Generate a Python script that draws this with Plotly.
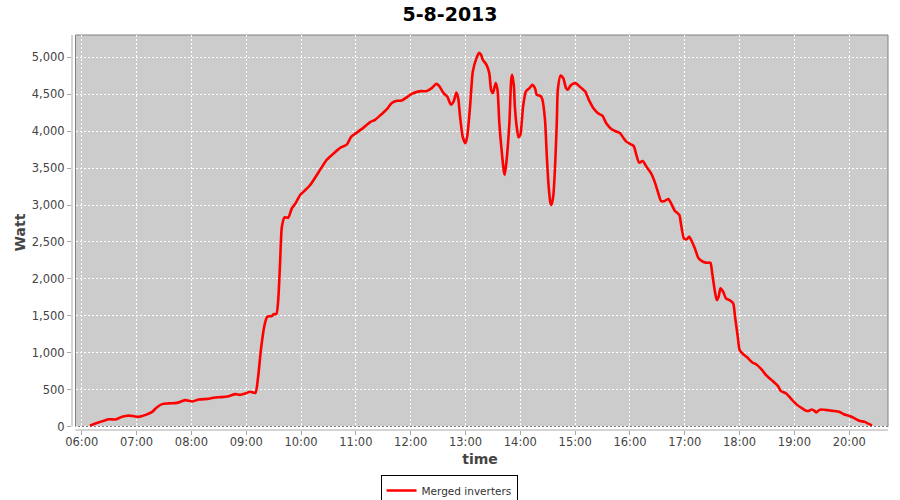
import pandas as pd
import plotly.graph_objects as go

DATE = "2013-08-05"
times = [
    "06:09", "06:14", "06:20", "06:25", "06:30", "06:37", "06:44", "06:51", "06:57", "07:02",
    "07:10", "07:17", "07:22", "07:28", "07:35", "07:44", "07:53", "08:01", "08:08", "08:19",
    "08:26", "08:33", "08:41", "08:48", "08:53", "08:59", "09:04", "09:10", "09:13", "09:16",
    "09:20", "09:23", "09:28", "09:30", "09:33", "09:35", "09:37", "09:39", "09:42", "09:46",
    "09:50", "09:54", "09:59", "10:04", "10:10", "10:21", "10:28", "10:35", "10:44", "10:50",
    "10:55", "11:01", "11:08", "11:16", "11:21", "11:28", "11:34", "11:39", "11:45", "11:50",
    "11:56", "12:01", "12:07", "12:12", "12:17", "12:23", "12:28", "12:31", "12:36", "12:40",
    "12:44", "12:47", "12:50", "12:52", "12:54", "12:57", "13:00", "13:02", "13:05", "13:08",
    "13:12", "13:15", "13:17", "13:19", "13:23", "13:26", "13:28", "13:30", "13:33", "13:35",
    "13:37", "13:40", "13:42", "13:43", "13:45", "13:48", "13:50", "13:51", "13:53", "13:54",
    "13:56", "13:58", "14:00", "14:03", "14:06", "14:10", "14:13", "14:16", "14:18", "14:22",
    "14:24", "14:27", "14:29", "14:31", "14:33", "14:34", "14:36", "14:38", "14:40", "14:41",
    "14:44", "14:47", "14:50", "14:52", "14:55", "15:00", "15:05", "15:11", "15:15", "15:20",
    "15:25", "15:30", "15:34", "15:40", "15:45", "15:49", "15:53", "15:56", "16:00", "16:04",
    "16:07", "16:10", "16:14", "16:18", "16:23", "16:27", "16:31", "16:34", "16:38", "16:42",
    "16:45", "16:49", "16:54", "16:56", "16:59", "17:02", "17:05", "17:07", "17:11", "17:15",
    "17:20", "17:24", "17:28", "17:30", "17:33", "17:35", "17:37", "17:39", "17:42", "17:45",
    "17:49", "17:53", "17:55", "17:58", "18:00", "18:04", "18:09", "18:14", "18:18", "18:24",
    "18:29", "18:33", "18:36", "18:42", "18:45", "18:51", "18:56", "19:02", "19:07", "19:13",
    "19:16", "19:19", "19:22", "19:24", "19:27", "19:30", "19:36", "19:42", "19:49", "19:54",
    "20:01", "20:06", "20:11", "20:17", "20:22", "20:25",
]
watts = [
    15, 40, 65, 85, 100, 97, 133, 150, 142, 133,
    160, 200, 260, 305, 315, 322, 359, 341, 368, 377,
    396, 400, 413, 440, 431, 450, 472, 458, 675, 1037,
    1375, 1488, 1497, 1524, 1524, 1714, 2211, 2707, 2835, 2830,
    2957, 3024, 3137, 3195, 3272, 3480, 3611, 3692, 3783, 3818,
    3927, 3981, 4045, 4126, 4153, 4230, 4298, 4379, 4411, 4414,
    4461, 4505, 4532, 4542, 4542, 4583, 4641, 4614, 4515, 4469,
    4360, 4401, 4523, 4447, 4200, 3920, 3837, 3940, 4340, 4808,
    4989, 5060, 5034, 4966, 4898, 4786, 4560, 4515, 4650, 4560,
    4108, 3679, 3453, 3408, 3611, 4108, 4695, 4763, 4604, 4333,
    4062, 3919, 3950, 4333, 4537, 4583, 4627, 4583, 4492, 4478,
    4434, 4153, 3656, 3249, 3024, 3001, 3114, 3520, 4153, 4560,
    4753, 4718, 4583, 4560, 4618, 4650, 4604, 4537, 4424, 4311,
    4244, 4207, 4108, 4027, 3995, 3975, 3905, 3859, 3828, 3801,
    3679, 3574, 3597, 3520, 3431, 3317, 3160, 3055, 3055, 3083,
    3024, 2924, 2866, 2730, 2550, 2537, 2572, 2527, 2415, 2279,
    2233, 2219, 2219, 2076, 1826, 1714, 1759, 1873, 1826, 1737,
    1714, 1669, 1488, 1217, 1037, 980, 930, 868, 845, 775,
    698, 653, 621, 549, 485, 450, 382, 305, 260, 214,
    214, 233, 214, 192, 224, 233, 224, 214, 201, 169,
    142, 111, 79, 65, 34, 20,
]
y_ticks = [0, 500, 1000, 1500, 2000, 2500, 3000, 3500, 4000, 4500, 5000]
title_text = "5-8-2013"
series_name = "Merged inverters"
x_title = "time"
y_title = "Watt"

x = pd.to_datetime([f"{DATE} {t}" for t in times])

FONT = "DejaVu Sans"
fig = go.Figure()
fig.add_trace(go.Scatter(
    x=x, y=watts, mode="lines", name=series_name,
    line=dict(color="#FF0000", width=2.6, shape="spline", smoothing=0.6),
))

# plot area (pixels): axis area 71.5..888.5 x 35..430 ; grey data area 75..888.5 x 35..426.5
L, R, T, B = 71.5, 888.5, 35, 430
W, H = R - L, B - T
fig.update_layout(
    width=900, height=500,
    margin=dict(l=L, r=900 - R, t=T, b=500 - B, pad=0, autoexpand=False),
    paper_bgcolor="white", plot_bgcolor="white",
    title=dict(text=f"<b>{title_text}</b>", x=0.5, xanchor="center", y=1 - 14 / 500, yanchor="middle",
               font=dict(family=FONT, size=19, color="black")),
    showlegend=True,
    legend=dict(orientation="h", x=(449 - L) / W, xanchor="center", y=-(475 - B) / H, yanchor="top",
                bordercolor="black", borderwidth=1, bgcolor="white",
                font=dict(family=FONT, size=10.5, color="#333333"), itemwidth=30),
    shapes=[
        dict(type="rect", xref="paper", yref="paper", x0=(75 - L) / W, x1=1, y0=(B - 426.5) / H, y1=1,
             fillcolor="#CCCCCC", line=dict(color="#808080", width=1), layer="below"),
        dict(type="line", xref="paper", yref="paper", x0=0, x1=0, y0=(B - 426.5) / H, y1=1,
             line=dict(color="#A8A8A8", width=1)),
        dict(type="line", xref="paper", yref="paper", x0=(75 - L) / W, x1=1, y0=0, y1=0,
             line=dict(color="#A8A8A8", width=1)),
    ],
)
fig.update_xaxes(
    automargin=False,
    range=[pd.Timestamp(f"{DATE} 05:49:17"), pd.Timestamp(f"{DATE} 20:42:25")],
    tickformat="%H:%M", dtick=3600000, tick0=pd.Timestamp(f"{DATE} 06:00"),
    showgrid=True, gridcolor="white", griddash="2px,2px", gridwidth=1,
    showline=False, zeroline=False,
    ticks="outside", ticklen=4, tickcolor="#A8A8A8", ticklabelstandoff=-3,
    tickfont=dict(family=FONT, size=11.5, color="#444444"),
    title=dict(text=f"<b>{x_title}</b>", font=dict(family=FONT, size=14, color="#444444"), standoff=6),
)
fig.update_yaxes(
    automargin=False,
    range=[-45, 5302], tickvals=y_ticks, tickformat=",d",
    showgrid=True, gridcolor="white", griddash="2px,2px", gridwidth=1,
    showline=False, zeroline=False,
    ticks="outside", ticklen=4, tickcolor="#A8A8A8",
    tickfont=dict(family=FONT, size=11.5, color="#444444"),
    title=dict(text=f"<b>{y_title}</b>", font=dict(family=FONT, size=14, color="#444444"), standoff=2),
)
fig.write_html("out.html", config={"displayModeBar": False},
               post_script="document.body.style.margin='0';")
